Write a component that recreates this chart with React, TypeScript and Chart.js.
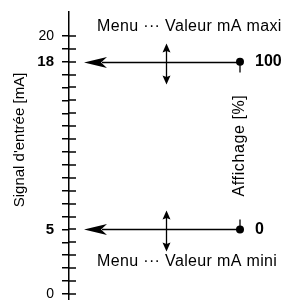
import React, { useEffect, useRef } from 'react';
import { Chart, registerables } from 'chart.js';

Chart.register(...registerables);

const FONT = "'Liberation Sans', Arial, Helvetica, sans-serif";

// ---- data ----
const inputTicks = [0, 1, 2, 3, 4, 5, 6, 7, 8, 9, 10, 11, 12, 13, 14, 15, 16, 17, 18, 19, 20];
const inputTickLabels = ['0', '', '', '', '', '5', '', '', '', '', '', '', '', '', '', '', '', '', '18', '', '20'];
const boldInputTicks = [5, 18];
const inputAxisRange = [-0.47, 21.85];
const markerInputs = [18, 5]; // mA
const markerDisplays = [100, 0]; // %
const displayTicks = [0, 100];
const menuTexts = ['Menu ··· Valeur mA maxi', 'Menu ··· Valeur mA mini'];
const inputTitle = "Signal d'entrée [mA]";
const displayTitle = 'Affichage [%]';

// display % as a function of input mA (linear between the two markers)
const m0 = markerInputs[1], m1 = markerInputs[0];
const d0 = markerDisplays[1], d1 = markerDisplays[0];
const toDisplay = (mA: number) => d0 + ((mA - m0) / (m1 - m0)) * (d1 - d0);

const overlayPlugin = {
  id: 'overlay',
  afterDraw(chart: any, _args: any, opts: any) {
    const { ctx } = chart;
    const x = chart.scales.x;
    const y = chart.scales.y;
    const ax = x.getPixelForValue(0);
    const end = x.getPixelForValue(1);
    ctx.save();
    ctx.strokeStyle = '#000';
    ctx.fillStyle = '#000';
    // right half of the input axis tick marks
    ctx.lineWidth = 1.5;
    inputTicks.forEach((v) => {
      const py = Math.round(y.getPixelForValue(v));
      ctx.beginPath();
      ctx.moveTo(ax, py);
      ctx.lineTo(ax + 7, py);
      ctx.stroke();
    });
    const dMax = Math.max(...markerDisplays);
    markerInputs.forEach((mA, i) => {
      const py = Math.round(y.getPixelForValue(mA)) + 0.5;
      const isTop = markerDisplays[i] === dMax;
      const tip = ax + opts.gap;
      ctx.lineWidth = 1.3;
      ctx.beginPath();
      ctx.moveTo(tip + 18, py);
      ctx.lineTo(end, py);
      ctx.stroke();
      ctx.beginPath();
      ctx.moveTo(tip, py);
      ctx.lineTo(tip + 23, py - 5.5);
      ctx.lineTo(tip + 17, py);
      ctx.lineTo(tip + 23, py + 5.5);
      ctx.closePath();
      ctx.fill();
      // small tick at the dot
      const dir = isTop ? 1 : -1;
      ctx.beginPath();
      ctx.moveTo(end, py);
      ctx.lineTo(end, py + dir * 10);
      ctx.stroke();
      // vertical adjust arrow
      const vx = Math.round(x.getPixelForValue(opts.adjustAt)) + 0.5;
      const t = py - 19, b = py + 22;
      ctx.beginPath();
      ctx.moveTo(vx, t + 7);
      ctx.lineTo(vx, b - 7);
      ctx.stroke();
      ctx.beginPath();
      ctx.moveTo(vx, t);
      ctx.lineTo(vx - 4, t + 9);
      ctx.lineTo(vx, t + 7.5);
      ctx.lineTo(vx + 4, t + 9);
      ctx.closePath();
      ctx.fill();
      ctx.beginPath();
      ctx.moveTo(vx, b);
      ctx.lineTo(vx - 4, b - 9);
      ctx.lineTo(vx, b - 7.5);
      ctx.lineTo(vx + 4, b - 9);
      ctx.closePath();
      ctx.fill();
      // menu text
      ctx.font = `16px ${FONT}`;
      ctx.textAlign = 'left';
      ctx.textBaseline = 'middle';
      (ctx as any).letterSpacing = '0.35px';
      ctx.fillText(menuTexts[i], ax + 28, isTop ? py - 36 : py + 32);
      (ctx as any).letterSpacing = '0px';
    });
    // titles
    const midY = (y.getPixelForValue(m0) + y.getPixelForValue(m1)) / 2;
    ctx.textAlign = 'center';
    ctx.textBaseline = 'middle';
    ctx.save();
    ctx.translate(20, 140);
    ctx.rotate(-Math.PI / 2);
    ctx.font = `15px ${FONT}`;
    ctx.fillText(inputTitle, 0, 0);
    ctx.restore();
    ctx.save();
    ctx.translate(end, midY);
    ctx.rotate(-Math.PI / 2);
    ctx.font = `16px ${FONT}`;
    (ctx as any).letterSpacing = '0.6px';
    ctx.fillText(displayTitle, 0, 0);
    ctx.restore();
    ctx.restore();
  },
};

export default function App() {
  const ref = useRef<HTMLCanvasElement>(null);
  useEffect(() => {
    if (!ref.current) return;
    const datasets = markerInputs.map((mA) => ({
      data: [
        { x: 0, y: mA },
        { x: 1, y: mA },
      ],
      showLine: false,
      pointRadius: [0, 4],
      pointBackgroundColor: '#000',
      pointBorderWidth: 0,
      clip: false as any,
    }));
    const chart = new Chart(ref.current, {
      type: 'scatter',
      data: { datasets },
      plugins: [overlayPlugin],
      options: {
        animation: false,
        responsive: false,
        devicePixelRatio: 1,
        layout: { padding: { top: 12, left: 0, right: 0, bottom: 0 }, autoPadding: false },
        plugins: {
          legend: { display: false },
          tooltip: { enabled: false },
          overlay: { gap: 15, adjustAt: 0.57 },
        } as any,
        scales: {
          x: { type: 'linear', min: 0, max: 1, display: false },
          y: {
            type: 'linear',
            position: 'left',
            min: inputAxisRange[0],
            max: inputAxisRange[1],
            afterBuildTicks: (s: any) => {
              s.ticks = inputTicks.map((v) => ({ value: v }));
            },
            afterFit: (s: any) => {
              s.width = 69;
              s.paddingTop = 0;
              s.paddingBottom = 0;
            },
            grid: { drawOnChartArea: false, tickLength: 7, color: '#000', lineWidth: 1.5 },
            border: { color: '#000', width: 1.5 },
            ticks: {
              padding: 8,
              color: '#000',
              autoSkip: false,
              callback: (v: any) => inputTickLabels[inputTicks.indexOf(Number(v))] ?? '',
              font: (c: any) => {
                const b = boldInputTicks.includes(c.tick?.value);
                return { family: FONT, size: b ? 15 : 14, weight: b ? 'bold' : 'normal' };
              },
            },
          },
          y1: {
            type: 'linear',
            position: 'right',
            min: toDisplay(inputAxisRange[0]),
            max: toDisplay(inputAxisRange[1]),
            afterBuildTicks: (s: any) => {
              s.ticks = displayTicks.map((v) => ({ value: v }));
            },
            afterFit: (s: any) => {
              s.width = 44;
              s.paddingTop = 0;
              s.paddingBottom = 0;
            },
            grid: { display: false, drawTicks: false },
            border: { display: false },
            ticks: {
              padding: 15,
              color: '#000',
              autoSkip: false,
              font: { family: FONT, size: 16, weight: 'bold' },
            },
          },
        },
      } as any,
    });
    return () => chart.destroy();
  }, []);
  return (
    <div style={{ position: 'fixed', left: 0, top: 0, width: 284, height: 300, background: '#fff' }}>
      <canvas ref={ref} width={284} height={300} style={{ display: 'block' }} />
    </div>
  );
}
